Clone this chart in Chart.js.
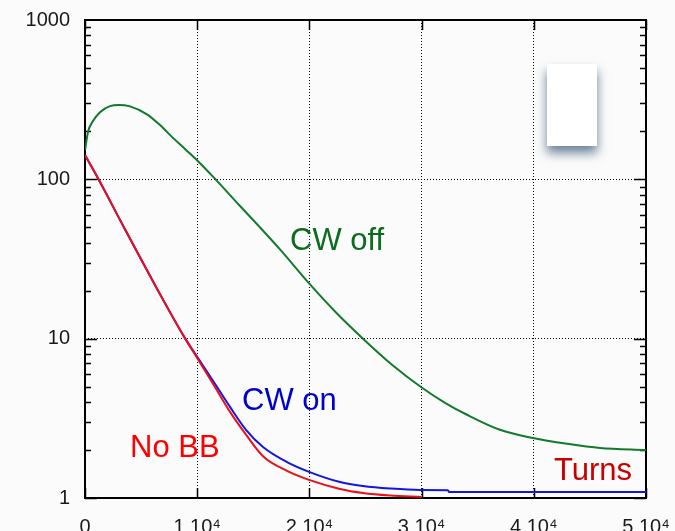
<!DOCTYPE html>
<html>
<head>
<meta charset="utf-8">
<script src="https://cdn.jsdelivr.net/npm/chart.js@4.4.0/dist/chart.umd.min.js"></script>
<style>
    html, body { margin: 0; padding: 0; background: #fbfbfb; overflow: hidden; }
    canvas { display: block; }
</style>
</head>
<body>
<canvas id="lossChart" width="675" height="531"></canvas>
<script>
// values: turns on x, counts on a log y axis
const cwOffTurns = [0, 267, 713, 1337, 2228, 3030, 4011, 5526, 6685, 7843, 9002, 10071, 11408, 13815, 15598, 17380, 20054, 22372, 24778, 27363, 30036, 32087, 34048, 36989, 39930, 42960, 45900, 50000];
const cwOffValues = [152, 198, 232, 264, 288, 293, 287, 256, 219, 182, 153, 130, 104, 68, 49.9, 36.3, 21.9, 14.6, 10.0, 6.86, 4.92, 3.96, 3.33, 2.68, 2.38, 2.19, 2.06, 2.0];

const cwOnTurns = [0, 1159, 3476, 6417, 8826, 9982, 11408, 12924, 14350, 15866, 18005, 19966, 22728, 24778, 27185, 29859, 32350, 32450, 50000];
const cwOnValues = [142, 101.5, 49.9, 20.6, 10.3, 7.71, 5.44, 3.73, 2.68, 2.09, 1.68, 1.46, 1.26, 1.19, 1.147, 1.123, 1.12, 1.09, 1.09];

const noBBTurns = [0, 1159, 3476, 6417, 8826, 9982, 11408, 12924, 14350, 15866, 18005, 19966, 22728, 24778, 27185, 30000];
const noBBValues = [142, 101.5, 49.9, 20.6, 10.3, 7.60, 5.21, 3.47, 2.50, 1.83, 1.48, 1.30, 1.14, 1.075, 1.037, 1.015];

const xTickValues = [0, 10000, 20000, 30000, 40000, 50000];
const xTickLabels = ["0", "1 10\u2074", "2 10\u2074", "3 10\u2074", "4 10\u2074", "5 10\u2074"];
const yTickValues = [1, 10, 100, 1000];
const yTickLabels = ["1", "10", "100", "1000"];

function toPoints(xs, ys) {
    return xs.map((x, i) => ({ x: x, y: ys[i] }));
}

const tickFont = { family: "'Liberation Sans', Arial, sans-serif", size: 20 };

// frame, inside ticks, the empty legend box and the curve labels
const framePlugin = {
    id: "frame",
    beforeDatasetsDraw(chart) {
        const { ctx, chartArea: a, scales } = chart;

        ctx.save();
        ctx.shadowColor = "rgba(60, 90, 120, 0.75)";
        ctx.shadowBlur = 10;
        ctx.shadowOffsetY = 7;
        ctx.fillStyle = "#ffffff";
        ctx.fillRect(547, 64, 50, 82);
        ctx.restore();

        ctx.save();
        ctx.strokeStyle = "#000";
        ctx.lineWidth = 1.5;
        ctx.beginPath();
        [1, 10, 100].forEach(dec => {
            for (let m = 1; m <= 9; m++) {
                const y = Math.round(scales.y.getPixelForValue(m * dec)) + 0.5;
                const len = m === 1 ? 12 : 6;
                ctx.moveTo(a.left, y); ctx.lineTo(a.left + len, y);
                ctx.moveTo(a.right, y); ctx.lineTo(a.right - len, y);
            }
        });
        xTickValues.forEach(v => {
            const x = Math.round(scales.x.getPixelForValue(v)) + 0.5;
            ctx.moveTo(x, a.bottom); ctx.lineTo(x, a.bottom - 10);
            ctx.moveTo(x, a.top); ctx.lineTo(x, a.top + 10);
        });
        ctx.stroke();
        ctx.lineWidth = 2;
        ctx.strokeRect(a.left, a.top, a.right - a.left, a.bottom - a.top);
        ctx.restore();
    },
    afterDatasetsDraw(chart) {
        const { ctx, scales } = chart;
        const notes = [
            { text: "CW off", color: "#0b6b1f", x: 18272, y: 35.9 },
            { text: "CW on", color: "#0000cc", x: 13993, y: 3.58 },
            { text: "No BB", color: "#ff0000", x: 4011, y: 1.82 },
            { text: "Turns", color: "#c80000", x: 41802, y: 1.30 }
        ];
        ctx.save();
        ctx.font = "31px 'Liberation Sans', Arial, sans-serif";
        ctx.textAlign = "left";
        ctx.textBaseline = "alphabetic";
        notes.forEach(n => {
            ctx.fillStyle = n.color;
            ctx.fillText(n.text, scales.x.getPixelForValue(n.x), scales.y.getPixelForValue(n.y));
        });
        ctx.restore();
    }
};

const ctx = document.getElementById("lossChart").getContext("2d");
const lossChart = new Chart(ctx, {
    type: "line",
    data: {
        datasets: [
            {
                label: "No BB",
                data: toPoints(noBBTurns, noBBValues),
                borderColor: "#e8101a",
                borderWidth: 2,
                pointRadius: 0,
                cubicInterpolationMode: "monotone"
            },
            {
                label: "CW on",
                data: toPoints(cwOnTurns, cwOnValues),
                borderColor: "#1515e0",
                borderWidth: 2,
                pointRadius: 0,
                cubicInterpolationMode: "monotone"
            },
            {
                label: "CW off",
                data: toPoints(cwOffTurns, cwOffValues),
                borderColor: "#117a2c",
                borderWidth: 2,
                pointRadius: 0,
                cubicInterpolationMode: "monotone"
            }
        ]
    },
    options: {
        responsive: false,
        animation: false,
        layout: { padding: { top: 20, right: 29, left: 0, bottom: 0 } },
        plugins: {
            legend: { display: false },
            tooltip: { enabled: false }
        },
        scales: {
            x: {
                type: "linear",
                min: 0,
                max: 50000,
                afterBuildTicks: s => { s.ticks = xTickValues.map(v => ({ value: v })); },
                afterFit: s => { s.height = 33; s.paddingLeft = 0; s.paddingRight = 0; },
                ticks: {
                    callback: v => xTickLabels[xTickValues.indexOf(v)],
                    padding: 17,
                    maxRotation: 0,
                    autoSkip: false,
                    color: "#1a1a1a",
                    font: tickFont
                },
                grid: { color: "#000", lineWidth: 1, drawTicks: false },
                border: { display: false, dash: [1, 2] }
            },
            y: {
                type: "logarithmic",
                min: 1,
                max: 1000,
                afterBuildTicks: s => { s.ticks = yTickValues.map(v => ({ value: v })); },
                afterFit: s => { s.width = 85; s.paddingTop = 0; s.paddingBottom = 0; },
                ticks: {
                    callback: v => yTickLabels[yTickValues.indexOf(v)],
                    padding: 15,
                    color: "#1a1a1a",
                    font: tickFont
                },
                grid: { color: "#000", lineWidth: 1, drawTicks: false },
                border: { display: false, dash: [1, 2] }
            }
        }
    },
    plugins: [framePlugin]
});
</script>
</body>
</html>
